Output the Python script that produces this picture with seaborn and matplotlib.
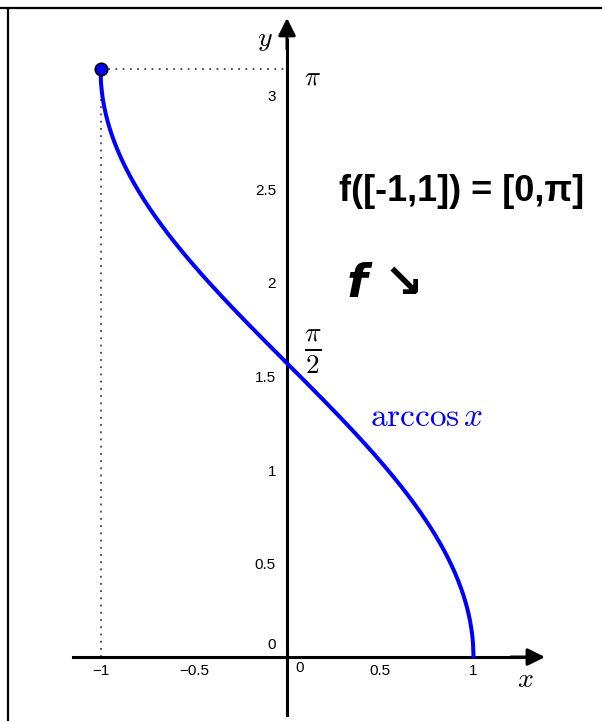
import numpy as np
import pandas as pd
import seaborn as sns
import matplotlib.pyplot as plt
from matplotlib.lines import Line2D

# data: the plotted function and its labels
x_vals = np.linspace(-1, 1, 801)
y_vals = np.arccos(x_vals)
start_point = (-1.0, np.pi)
x_ticks = [-1, -0.5, 0, 0.5, 1]
x_ticklabels = ["\u22121", "\u22120.5", "", "0.5", "1"]
y_ticks = [0, 0.5, 1, 1.5, 2, 2.5, 3]
y_ticklabels = ["", "0.5", "1", "1.5", "2", "2.5", "3"]

sns.set_style("white")
plt.rcParams["font.family"] = ["Liberation Sans", "DejaVu Sans"]
plt.rcParams["mathtext.fontset"] = "cm"
plt.rcParams["text.color"] = "black"
plt.rcParams["xtick.color"] = "black"
plt.rcParams["ytick.color"] = "black"

fig = plt.figure(figsize=(6.02, 7.21), dpi=100)
ax = fig.add_axes([0, 0, 1, 1])
ax.set_facecolor("white")

df = pd.DataFrame({"x": x_vals, "y": y_vals})
sns.lineplot(data=df, x="x", y="y", sort=False, color="#0000ff", lw=2.9, ax=ax, zorder=4)

# dotted guides to the start point
ax.plot([start_point[0], start_point[0]], [0, start_point[1]], ls=(0, (1, 3)), color="#444444", lw=1.3, zorder=2)
ax.plot([start_point[0], 0], [start_point[1], start_point[1]], ls=(0, (1, 3)), color="#444444", lw=1.3, zorder=2)
ax.scatter([start_point[0]], [start_point[1]], s=80, color="#0000ff", edgecolor="black", linewidth=1.2, zorder=6)

# limits in the same scale both ways
ax.set_xlim(-1.539, 1.689)
ax.set_ylim(-0.342, 3.513)

# axes through the origin
for side in ["top", "right"]:
    ax.spines[side].set_visible(False)
ax.spines["left"].set_position(("data", 0))
ax.spines["bottom"].set_position(("data", 0))
ax.spines["left"].set_bounds(-0.31, 3.3)
ax.spines["bottom"].set_bounds(-1.147, 1.3)
for side in ["left", "bottom"]:
    ax.spines[side].set_linewidth(2.2)
    ax.spines[side].set_color("black")
ax.annotate("", xy=(1.383, 0), xytext=(1.2, 0),
            arrowprops=dict(arrowstyle="-|>", color="black", lw=2.2, mutation_scale=26,
                            shrinkA=0, shrinkB=0), zorder=5)
ax.annotate("", xy=(0, 3.417), xytext=(0, 3.25),
            arrowprops=dict(arrowstyle="-|>", color="black", lw=2.2, mutation_scale=26,
                            shrinkA=0, shrinkB=0), zorder=5)

ax.set_xticks(x_ticks)
ax.set_xticklabels(x_ticklabels)
ax.set_yticks(y_ticks)
ax.set_yticklabels(y_ticklabels)
ax.tick_params(axis="x", direction="inout", length=6, width=1.2, labelsize=11, pad=2)
ax.tick_params(axis="y", direction="out", length=4, width=1.2, labelsize=11, pad=4)
ax.set_xlabel("")
ax.set_ylabel("")

ax.text(0.07, -0.06, "0", fontsize=11, ha="center", va="center")
ax.text(-0.085, 0.064, "0", fontsize=11, ha="center", va="center")

# math labels
ax.text(-0.118, 3.30, "$y$", fontsize=20, ha="center", va="center")
ax.text(1.276, -0.123, "$x$", fontsize=20, ha="center", va="center")
ax.text(0.139, 3.10, r"$\pi$", fontsize=19, ha="center", va="center")
ax.text(0.139, 1.63, r"$\frac{\pi}{2}$", fontsize=28, ha="center", va="center")
ax.text(0.75, 1.28, r"$\arccos x$", fontsize=24, color="#0000ff", ha="center", va="center")

# hand-written notes
ax.text(0.938, 2.487, "f([-1,1]) = [0,\u03c0]", fontsize=26, fontweight="bold",
        ha="center", va="center")
ax.text(0.525, 1.99, "f \u2198", fontsize=34, fontweight="bold", style="italic",
        ha="center", va="center", family=["DejaVu Sans"])

# frame lines at top and left
fig.add_artist(Line2D([0, 1], [1 - 8 / 721, 1 - 8 / 721], color="black", lw=1.6))
fig.add_artist(Line2D([8 / 602, 8 / 602], [0, 1 - 8 / 721], color="black", lw=1.6))

fig.savefig("out.png", dpi=100)
